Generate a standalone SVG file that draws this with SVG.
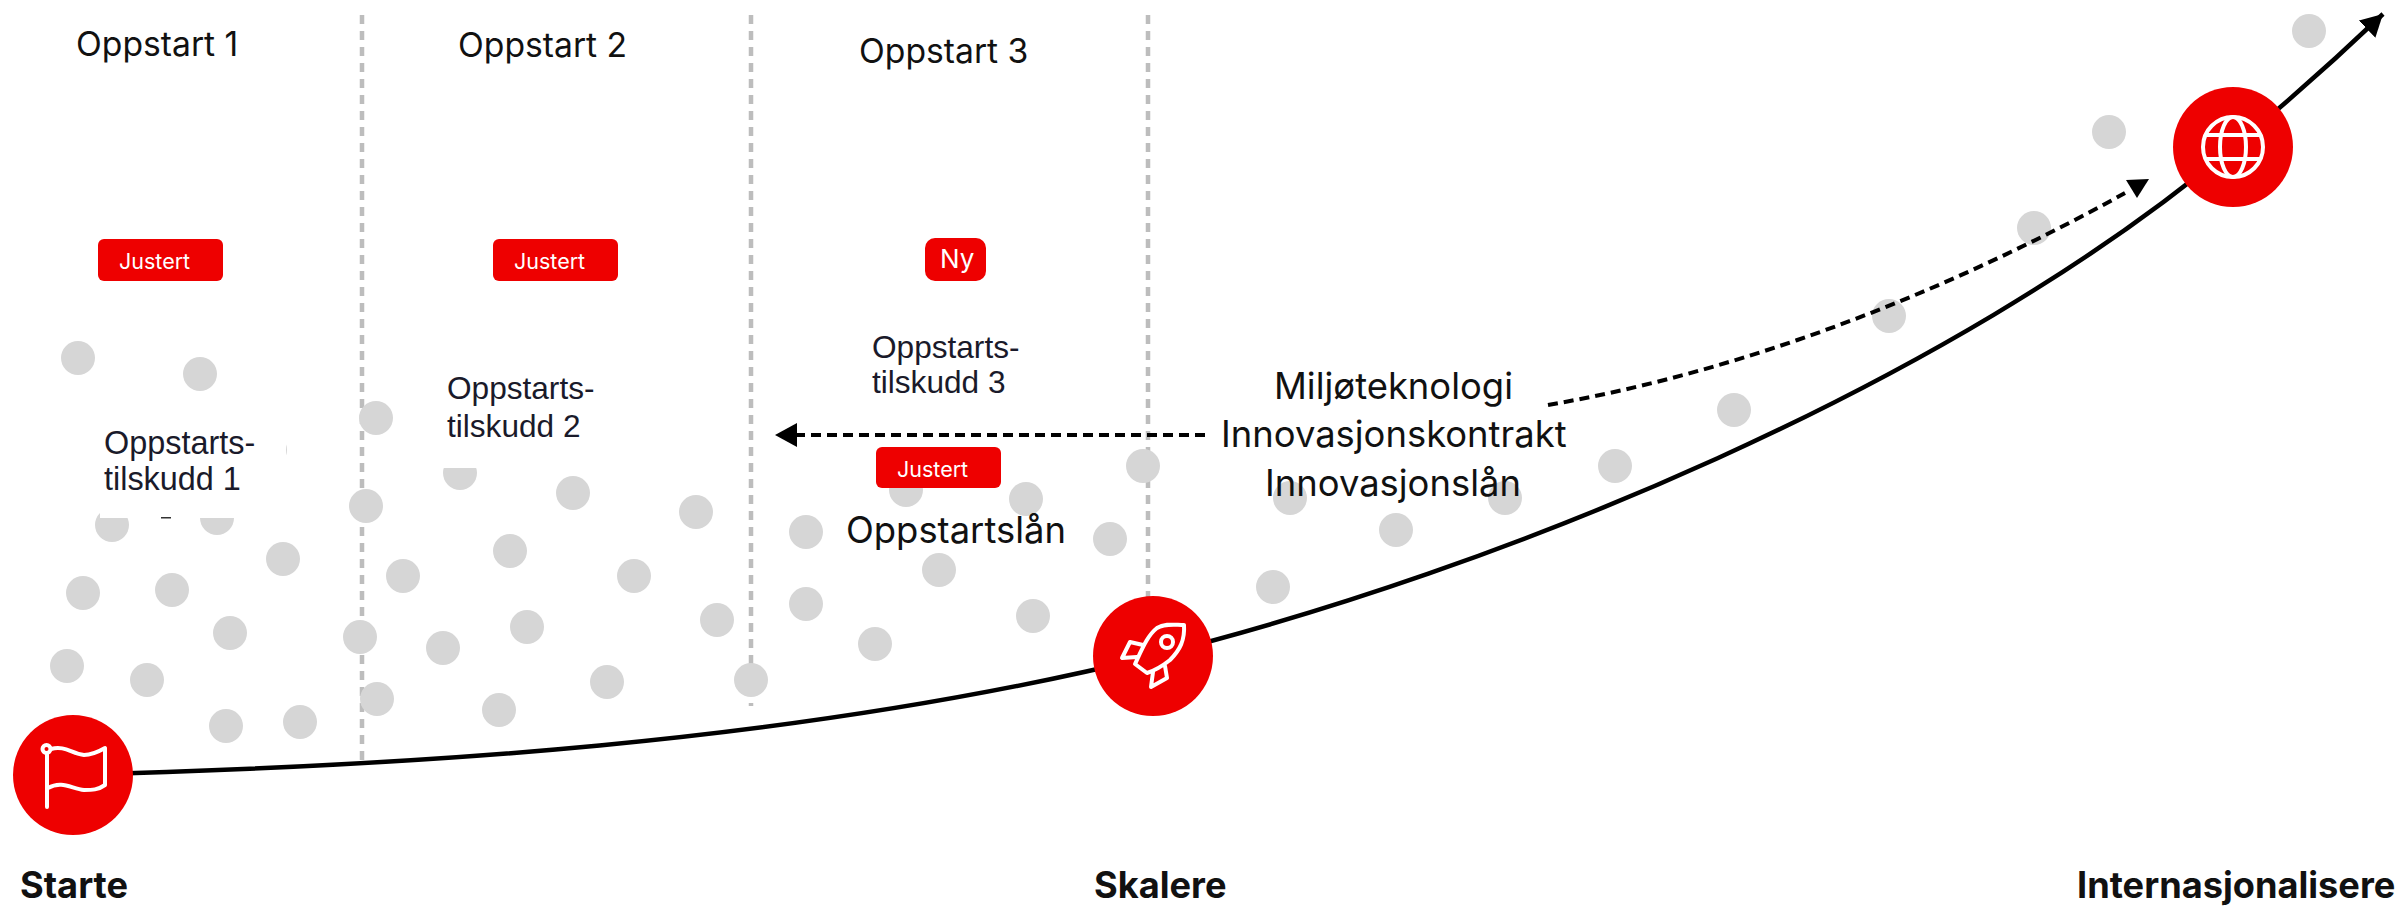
<svg xmlns="http://www.w3.org/2000/svg" width="2402" height="907" viewBox="0 0 2402 907">
<style>
.dot{fill:#d6d6d6}
.div{fill:none;stroke:#bdbdbd;stroke-width:4.5;stroke-dasharray:9 7}
.dash{fill:none;stroke:#000;stroke-width:4;stroke-dasharray:10 6}
.curve{fill:none;stroke:#000;stroke-width:4.5}
.node{fill:#ee0000}
.ic{fill:none;stroke:#fff;stroke-width:4;stroke-linejoin:round;stroke-linecap:round}
.badge{fill:#ee0000}
.bt{fill:#fff;font-family:Inter,"Liberation Sans",sans-serif;font-size:21.5px}
.t{fill:#111;font-family:Inter,"Liberation Sans",sans-serif;font-size:33.7px}
.m{fill:#111;font-family:Inter,"Liberation Sans",sans-serif;font-size:36.4px}
.s{fill:#1a1a2a;font-family:"Liberation Sans",Arial,sans-serif;font-size:31.6px}
.b{fill:#111;font-family:Inter,"Liberation Sans",sans-serif;font-size:36.2px;font-weight:700}
</style>
<defs>
<marker id="tip" markerUnits="userSpaceOnUse" markerWidth="24" markerHeight="24" refX="22" refY="12" orient="auto"><path d="M0 0L22 12L0 24Z" fill="#000"/></marker>
</defs>
<g id="dividers">
<path class="div" d="M362 15V760"/>
<path class="div" d="M751 15V706"/>
<path class="div" d="M1148 15V600"/>
</g>
<g id="dots">
<circle class="dot" cx="78" cy="358" r="17"/><circle class="dot" cx="200" cy="374" r="17"/><circle class="dot" cx="270" cy="450" r="17"/><circle class="dot" cx="112" cy="525" r="17"/><circle class="dot" cx="217" cy="518" r="17"/><circle class="dot" cx="283" cy="559" r="17"/><circle class="dot" cx="83" cy="593" r="17"/><circle class="dot" cx="172" cy="590" r="17"/><circle class="dot" cx="230" cy="633" r="17"/><circle class="dot" cx="67" cy="666" r="17"/><circle class="dot" cx="147" cy="680" r="17"/><circle class="dot" cx="226" cy="726" r="17"/><circle class="dot" cx="300" cy="722" r="17"/>
<circle class="dot" cx="376" cy="418" r="17"/><circle class="dot" cx="366" cy="506" r="17"/><circle class="dot" cx="460" cy="473" r="17"/><circle class="dot" cx="573" cy="493" r="17"/><circle class="dot" cx="696" cy="512" r="17"/><circle class="dot" cx="510" cy="551" r="17"/><circle class="dot" cx="403" cy="576" r="17"/><circle class="dot" cx="634" cy="576" r="17"/><circle class="dot" cx="717" cy="620" r="17"/><circle class="dot" cx="527" cy="627" r="17"/><circle class="dot" cx="443" cy="648" r="17"/><circle class="dot" cx="360" cy="637" r="17"/><circle class="dot" cx="607" cy="682" r="17"/><circle class="dot" cx="377" cy="699" r="17"/><circle class="dot" cx="499" cy="710" r="17"/><circle class="dot" cx="751" cy="680" r="17"/>
<circle class="dot" cx="906" cy="490" r="17"/><circle class="dot" cx="1026" cy="499" r="17"/><circle class="dot" cx="806" cy="532" r="17"/><circle class="dot" cx="1110" cy="539" r="17"/><circle class="dot" cx="1143" cy="466" r="17"/><circle class="dot" cx="939" cy="570" r="17"/><circle class="dot" cx="806" cy="604" r="17"/><circle class="dot" cx="875" cy="644" r="17"/><circle class="dot" cx="1033" cy="616" r="17"/>
<circle class="dot" cx="1290" cy="498" r="17"/><circle class="dot" cx="1396" cy="530" r="17"/><circle class="dot" cx="1505" cy="498" r="17"/><circle class="dot" cx="1273" cy="587" r="17"/><circle class="dot" cx="1615" cy="466" r="17"/><circle class="dot" cx="1734" cy="410" r="17"/><circle class="dot" cx="1889" cy="316" r="17"/><circle class="dot" cx="2034" cy="228" r="17"/><circle class="dot" cx="2109" cy="132" r="17"/><circle class="dot" cx="2309" cy="31" r="17"/>
</g>
<rect x="100" y="420" width="186" height="98" fill="#fff"/>
<rect x="440" y="365" width="160" height="103" fill="#fff"/>
<rect x="161" y="517" width="10" height="1.5" fill="#333"/>
<g id="connectors">
<path class="curve" marker-end="url(#tip)" d="M73 775C400 766 790 745 1153 656C1500 570 1950 385 2233 147C2290 100 2340 55 2383 14"/>
<path class="dash" marker-end="url(#tip)" d="M1205 435H775"/>
<path class="dash" d="M1548 405C1750 370 1950 290 2125 193"/>
<polygon points="2126,180 2149,179 2137,198" fill="#000"/>
</g>
<g id="node-start"><circle class="node" cx="73" cy="775" r="60"/>
<path class="ic" d="M47 807V754M51 749C65 745 72 754 84 755C92 755 98 752 105 748V785C98 790 92 790 84 790C72 789 62 780 48 788"/><circle class="ic" cx="46.500" cy="749" r="4"/></g>
<g id="node-scale"><circle class="node" cx="1153" cy="656" r="60"/>
<path class="ic" d="M1135 664C1143 647 1148 635 1157 628C1165 623 1175 625 1184 625C1185 640 1180 650 1170 660C1160 668 1150 672 1147 673ZM1143 645L1130 642L1122 658L1137 657M1153 672L1151 687L1167 678L1165 666"/><circle class="ic" cx="1167" cy="642" r="6"/></g>
<g id="node-global"><circle class="node" cx="2233" cy="147" r="60"/>
<circle class="ic" cx="2233" cy="147" r="30"/><ellipse class="ic" cx="2233" cy="147" rx="13" ry="30"/><path class="ic" d="M2207 135H2259M2207 159H2259"/></g>
<g id="labels">
<text class="t" x="76" y="56">Oppstart 1</text><text class="t" x="458" y="57">Oppstart 2</text><text class="t" x="859" y="63">Oppstart 3</text>
<text class="s" x="104" y="454" style="font-size:32.4px">Oppstarts-</text><text class="s" x="104" y="490" style="font-size:32.4px">tilskudd 1</text>
<text class="s" x="447" y="399">Oppstarts-</text><text class="s" x="447" y="437">tilskudd 2</text>
<text class="s" x="872" y="358">Oppstarts-</text><text class="s" x="872" y="393">tilskudd 3</text>
<text class="m" x="846" y="543">Oppstartslån</text>
<text class="m" x="1274" y="399">Miljøteknologi</text><text class="m" x="1221" y="447">Innovasjonskontrakt</text><text class="m" x="1265" y="496">Innovasjonslån</text>
<text class="b" x="20" y="898">Starte</text><text class="b" x="1094" y="898">Skalere</text><text class="b" x="2077" y="898">Internasjonalisere</text>
</g>
<g id="badges">
<rect class="badge" x="98" y="239" width="125" height="42" rx="6"/><text class="bt" x="119" y="269">Justert</text>
<rect class="badge" x="493" y="239" width="125" height="42" rx="6"/><text class="bt" x="514" y="269">Justert</text>
<rect class="badge" x="876" y="447" width="125" height="41" rx="6"/><text class="bt" x="897" y="477">Justert</text>
<rect class="badge" x="925" y="238" width="61" height="43" rx="10"/><text class="bt" x="940" y="268" style="font-size:26px">Ny</text>
</g>
</svg>
